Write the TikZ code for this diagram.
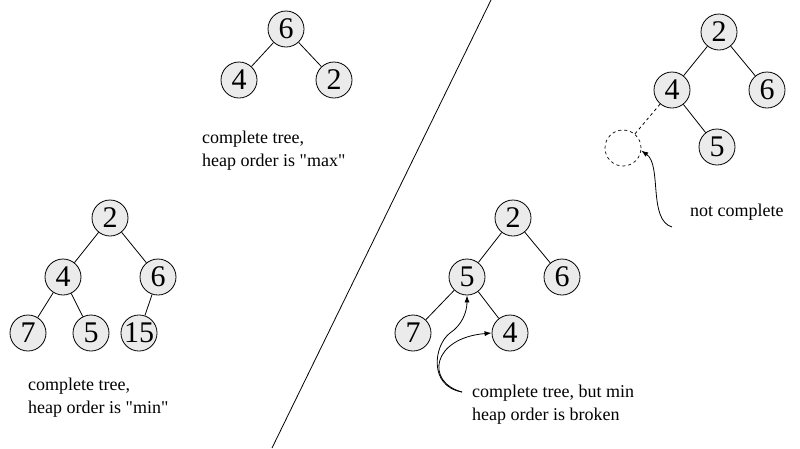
\documentclass[tikz,border=0pt]{standalone}
\usepackage{fontspec}
\setmainfont{Liberation Serif}
\usetikzlibrary{arrows.meta}
\definecolor{nodefill}{RGB}{235,235,235}
\tikzset{
  hn/.style={circle,draw=black,line width=0.8pt,fill=nodefill,minimum size=36pt,inner sep=0pt,
    font=\fontsize{30}{30}\selectfont},
  ghost/.style={circle,draw=black,dashed,line width=0.7pt,minimum size=36pt,inner sep=0pt},
  edge/.style={line width=0.8pt},
  captext/.style={align=left,anchor=west,inner sep=0pt,font=\fontsize{18}{23}\selectfont},
  pointer/.style={line width=0.8pt,-{Latex[length=7pt,width=5pt]}}
}
\begin{document}
\begin{tikzpicture}[x=1pt,y=-1pt]
\useasboundingbox (0,0) rectangle (800,448);
% divider
\coordinate (dtop) at (491,0);
\coordinate (dbot) at (272,448);
\draw[line width=0.8pt] (dtop) -- (dbot);

% top-middle tree (max)
\node[hn] (a6) at (286,29) {6};
\node[hn] (a4) at (239,80) {4};
\node[hn] (a2) at (334,80) {2};
\draw[edge] (a6) -- (a4);
\draw[edge] (a6) -- (a2);
\node[captext] (acap) at (202,151) {complete tree,\\heap order is \textquotedbl max\textquotedbl};

% bottom-left tree (min)
\node[hn] (b2) at (110,218) {2};
\node[hn] (b4) at (63,277) {4};
\node[hn] (b6) at (158,277) {6};
\node[hn] (b7) at (28,333) {7};
\node[hn] (b5) at (91,333) {5};
\node[hn] (b15) at (139,333) {15};
\draw[edge] (b2) -- (b4);
\draw[edge] (b2) -- (b6);
\draw[edge] (b4) -- (b7);
\draw[edge] (b4) -- (b5);
\draw[edge] (b6) -- (b15);
\node[captext] (bcap) at (28,398) {complete tree,\\heap order is \textquotedbl min\textquotedbl};

% bottom-right tree (broken)
\node[hn] (c2) at (513,218) {2};
\node[hn] (c5) at (467,277) {5};
\node[hn] (c6) at (562,277) {6};
\node[hn] (c7) at (413,333) {7};
\node[hn] (c4) at (510,333) {4};
\draw[edge] (c2) -- (c5);
\draw[edge] (c2) -- (c6);
\draw[edge] (c5) -- (c7);
\draw[edge] (c5) -- (c4);
\node[captext] (ccap) at (472,405) {complete tree, but min\\heap order is broken};
\coordinate (cs) at (462,392);
\draw[pointer] (cs) .. controls (428,386) and (434,345) .. (450,333)
  .. controls (462,325) and (467,312) .. (c5.south);
\draw[pointer] (cs) .. controls (425,382) and (432,338) .. (c4.west);

% top-right tree (not complete)
\node[hn] (d2) at (719,32) {2};
\node[hn] (d4) at (672,90) {4};
\node[hn] (d6) at (767,90) {6};
\node[hn] (d5) at (717,147) {5};
\node[ghost] (dg) at (623,148) {};
\draw[edge] (d2) -- (d4);
\draw[edge] (d2) -- (d6);
\draw[edge] (d4) -- (d5);
\draw[edge,dashed] (d4) -- (dg);
\node[captext] (dcap) at (690,212) {not complete};
\coordinate (ds) at (672,227);
\draw[pointer] (ds) .. controls (648,220) and (662,165) .. (dg.-8);
\end{tikzpicture}
\end{document}
